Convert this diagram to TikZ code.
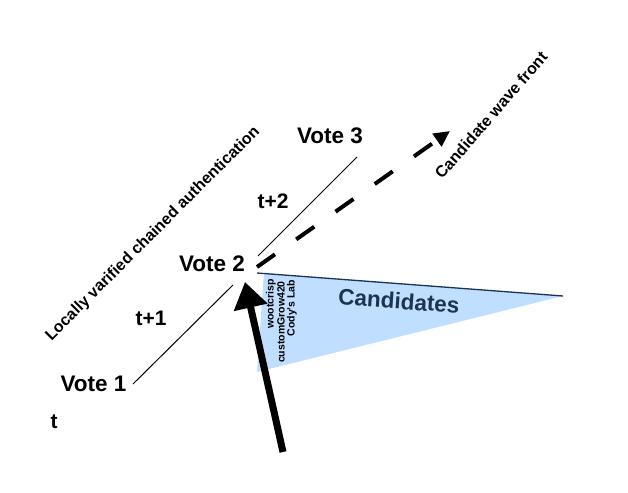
\documentclass[tikz,border=0pt]{standalone}
\usepackage{fontspec}
\usepackage{tikz}
\usepackage{xcolor}
\setsansfont{Liberation Sans}
\usetikzlibrary{arrows.meta}
\definecolor{CandBlue}{HTML}{C0DEFF}
\definecolor{CandNavy}{HTML}{1B3354}

\begin{document}
\begin{tikzpicture}[x=1pt,y=-1pt,
                    lbl/.style={font=\sffamily\bfseries\fontsize{22.5}{26}\selectfont},
                    tlbl/.style={font=\sffamily\bfseries\fontsize{21}{24}\selectfont},
                    slant/.style={font=\sffamily\bfseries\fontsize{16}{19}\selectfont},
                    who/.style={font=\sffamily\bfseries\fontsize{10.5}{12}\selectfont,rotate=90,anchor=east,inner sep=0pt}]
                    \useasboundingbox (0,0) rectangle (628,492);

%                    candidate wedge
                    \fill[CandBlue] (264,273) -- (563,296) -- (257,372) -- cycle;
                    \draw[line width=1.3pt,CandNavy] (257,273) -- (563,296);
                    \node[lbl,CandNavy,rotate=-4] (cands) at (399,301) {Candidates};
                    \node[who] (woot) at (271,279) {wootcrisp};
                    \node[who] (grow) at (281,281) {customGrow420};
                    \node[who] (cody) at (292,280) {Cody's Lab};

%                    votes
                    \node[lbl] (vote1) at (93.5,383.5) {Vote 1};
                    \node[lbl] (vote2) at (212,264) {Vote 2};
                    \node[lbl] (vote3) at (330,136) {Vote 3};
                    \node[tlbl] (t0) at (54,421.5) {t};
                    \node[tlbl] (t1) at (151,318.5) {t+1};
                    \node[tlbl] (t2) at (273,201.5) {t+2};

                    \coordinate (v1out) at (133,384);
                    \coordinate (v2in) at (233,285);
                    \coordinate (v2out) at (258,256);
                    \coordinate (v3in) at (357,157);
                    \draw[line width=1pt] (v1out) -- (v2in);
                    \draw[line width=1pt] (v2out) -- (v3in);

%                    wave front
                    \coordinate (wavestart) at (257,267);
                    \coordinate (wavetip) at (450,131);
                    \draw[line width=4pt,dash pattern=on 22pt off 26pt,-{Triangle[length=16pt,width=15pt]}] (wavestart) -- (wavetip);
                    \node[slant,rotate=49] (wave) at (491,115) {Candidate wave front};
                    \node[slant,rotate=45] (chain) at (153,234) {Locally varified chained authentication};

%                    incoming
                    \coordinate (instart) at (283,452);
                    \coordinate (intip) at (245,282);
                    \draw[line width=7pt,-{Triangle[length=26pt,width=33pt]}] (instart) -- (intip);

                \end{tikzpicture}
\end{document}
